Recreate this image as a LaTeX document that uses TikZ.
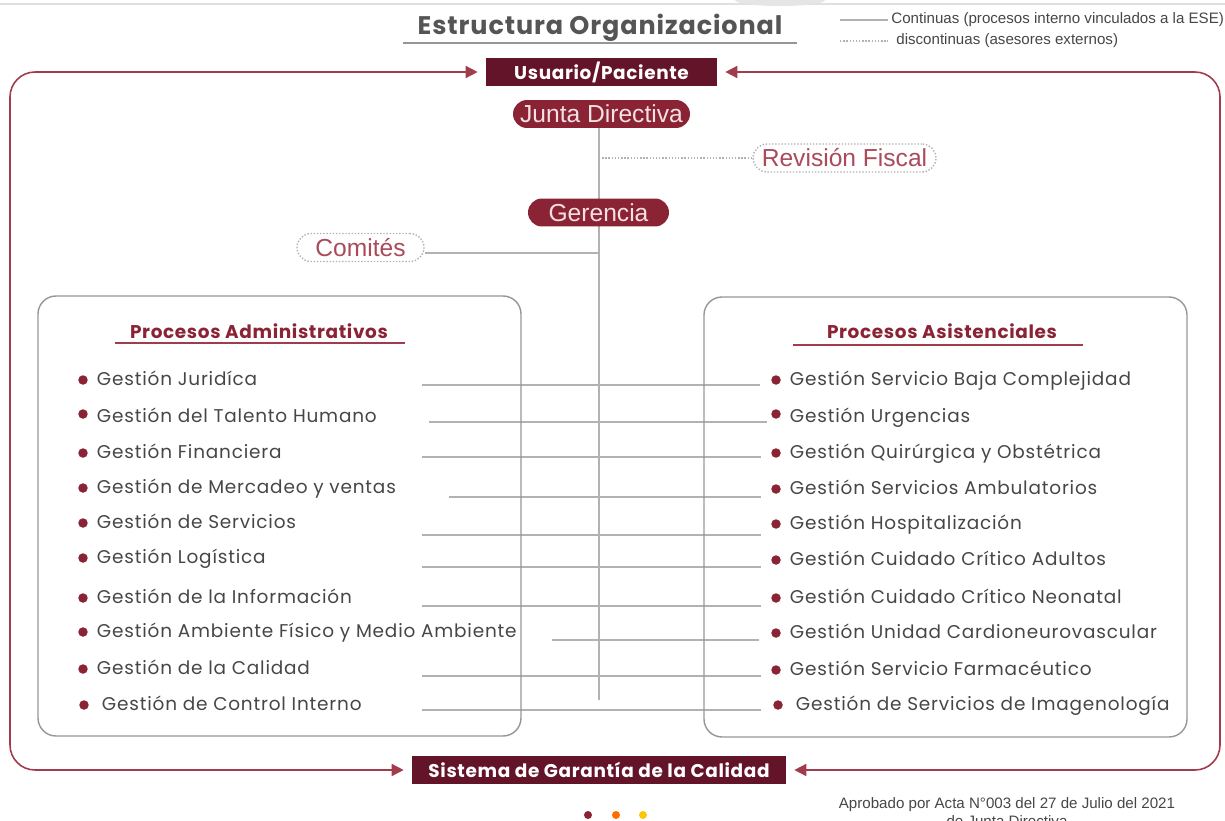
\documentclass[tikz,border=0pt]{standalone}
\usepackage{fontspec}
\setmainfont{Poppins}
\newfontfamily\pillfont{Liberation Sans}
\newfontfamily\wideface[LetterSpace=4.4]{Poppins}
\newfontfamily\boldwide[LetterSpace=3.5]{Poppins}
\usetikzlibrary{arrows.meta, positioning, backgrounds}

\definecolor{vino}{RGB}{100,20,40}
\definecolor{pillred}{RGB}{138,35,52}
\definecolor{flowred}{RGB}{160,60,75}
\definecolor{softred}{RGB}{170,75,90}
\definecolor{pilltext}{RGB}{245,225,228}
\definecolor{linegray}{RGB}{178,178,178}
\definecolor{panelgray}{RGB}{150,150,150}
\definecolor{itemgray}{RGB}{70,70,70}
\definecolor{titlegray}{RGB}{85,85,85}

\begin{document}
\begin{tikzpicture}[
    x=0.02cm, y=-0.02cm,
    banner/.style={rectangle, fill=vino, text=white, font=\boldwide\bfseries\fontsize{10.5}{12}\selectfont, minimum height=0.56cm, inner sep=0pt},
    pill/.style={rectangle, rounded corners=0.28cm, fill=pillred, text=pilltext, font=\pillfont\fontsize{14}{16}\selectfont, minimum height=0.56cm, inner sep=0pt},
    advisor/.style={pill, fill=white, draw=linegray, densely dotted, line width=0.8pt, text=softred},
    bullet/.style={circle, fill=pillred, minimum size=0.19cm, inner sep=0pt},
    item/.style={right=0.17cm of #1, text=itemgray, font=\wideface\fontsize{10.5}{12}\selectfont, inner sep=0pt, text height=1.6ex, text depth=0.4ex},
    heading/.style={text=pillred, font=\boldwide\bfseries\fontsize{10.5}{12}\selectfont},
    note/.style={text=itemgray, font=\pillfont\fontsize{8.6}{10}\selectfont, inner sep=0pt},
    link/.style={draw=linegray, line width=0.8pt},
    panel/.style={draw=panelgray, line width=0.8pt, rounded corners=0.36cm},
    feed/.style={draw=flowred, line width=0.9pt, rounded corners=0.5cm, >={Triangle[length=0.24cm,width=0.24cm]}, <->, shorten <=0.16cm, shorten >=0.16cm},
]
    \clip (0,0) rectangle (1225,821);
    \draw[black!12, line width=0.6pt] (0,4) -- (1225,4);
    \fill[black!10] (780,0) ellipse (45 and 6);

    % Title and legend
    \node (title) [text=titlegray, font=\boldwide\bfseries\fontsize{14.5}{17}\selectfont] at (600,28) {Estructura Organizacional};
    \draw[panelgray, line width=0.8pt] (403,43) -- (797,43);
    \node (lgsolid) [note, anchor=west] at (891,20) {Continuas (procesos interno vinculados a la ESE)};
    \node (lgdots) [note, anchor=west] at (896,41) {discontinuas (asesores externos)};

    % Top of the structure
    \node (usuario) [banner, minimum width=4.62cm] at (601.5,72) {Usuario/Paciente};
    \node (junta) [pill, minimum width=3.54cm] at (601.5,114) {Junta Directiva};
    \node (revision) [advisor, minimum width=3.66cm] at (844.5,158) {Revisión Fiscal};
    \node (gerencia) [pill, minimum width=2.82cm] at (598.5,212.5) {Gerencia};
    \node (comites) [advisor, minimum width=2.54cm] at (360.5,247.5) {Comités};
    \node (sistema) [banner, minimum width=7.48cm] at (599,770) {Sistema de Garantía de la Calidad};

    \coordinate (trunkend) at (599,700);
    \coordinate (fiscaltap) at (599,158);
    \coordinate (comitestap) at (599,253);
    \coordinate (leftrail) at (10,420);
    \coordinate (rightrail) at (1220,420);

    % Process panels
    \draw[panel] (38,296) rectangle (521,736);
    \draw[panel] (704,297) rectangle (1187,737);
    \node (hadm) [heading] at (259,331) {Procesos Administrativos};
    \node (hasis) [heading] at (942,331) {Procesos Asistenciales};
    \draw[flowred, line width=0.8pt] (115,343) -- (405,343);
    \draw[flowred, line width=0.8pt] (793,345) -- (1083,345);

    % Administrative processes
    \node (ab1) [bullet] at (83,380) {};
    \node (a1) [item=ab1] {Gestión Juridíca};
    \node (ab2) [bullet] at (83,414) {};
    \node (a2) [item=ab2, yshift=-0.06cm] {Gestión del Talento Humano};
    \node (ab3) [bullet] at (83,453) {};
    \node (a3) [item=ab3] {Gestión Financiera};
    \node (ab4) [bullet] at (83,488) {};
    \node (a4) [item=ab4] {Gestión de Mercadeo y ventas};
    \node (ab5) [bullet] at (83,523) {};
    \node (a5) [item=ab5] {Gestión de Servicios};
    \node (ab6) [bullet] at (83,558) {};
    \node (a6) [item=ab6] {Gestión Logística};
    \node (ab7) [bullet] at (83,598) {};
    \node (a7) [item=ab7] {Gestión de la Información};
    \node (ab8) [bullet] at (83,632) {};
    \node (a8) [item=ab8] {Gestión Ambiente Físico y Medio Ambiente};
    \node (ab9) [bullet] at (83,669) {};
    \node (a9) [item=ab9] {Gestión de la Calidad};
    \node (ab10) [bullet] at (84,705) {};
    \node (a10) [item=ab10, xshift=0.08cm] {Gestión de Control Interno};

    % Care processes
    \node (rb1) [bullet] at (776,380) {};
    \node (r1) [item=rb1] {Gestión Servicio Baja Complejidad};
    \node (rb2) [bullet] at (776,414) {};
    \node (r2) [item=rb2, yshift=-0.06cm] {Gestión Urgencias};
    \node (rb3) [bullet] at (776,453) {};
    \node (r3) [item=rb3] {Gestión Quirúrgica y Obstétrica};
    \node (rb4) [bullet] at (776,489) {};
    \node (r4) [item=rb4] {Gestión Servicios Ambulatorios};
    \node (rb5) [bullet] at (776,524) {};
    \node (r5) [item=rb5] {Gestión Hospitalización};
    \node (rb6) [bullet] at (776,560) {};
    \node (r6) [item=rb6] {Gestión Cuidado Crítico Adultos};
    \node (rb7) [bullet] at (776,598) {};
    \node (r7) [item=rb7] {Gestión Cuidado Crítico Neonatal};
    \node (rb8) [bullet] at (776,633) {};
    \node (r8) [item=rb8] {Gestión Unidad Cardioneurovascular};
    \node (rb9) [bullet] at (776,670) {};
    \node (r9) [item=rb9] {Gestión Servicio Farmacéutico};
    \node (rb10) [bullet] at (778,705) {};
    \node (r10) [item=rb10, xshift=0.08cm] {Gestión de Servicios de Imagenología};

    % Row links start points
    \coordinate (h1) at (422,385);
    \coordinate (h2) at (429,422);
    \coordinate (h3) at (422,457);
    \coordinate (h4) at (449,497);
    \coordinate (h5) at (422,535);
    \coordinate (h6) at (422,567);
    \coordinate (h7) at (422,606);
    \coordinate (h8) at (552,640);
    \coordinate (h9) at (422,676);
    \coordinate (h10) at (422,710);

    \begin{scope}[on background layer]
        \draw[link] (trunkend |- junta.south) -- (trunkend);
        \draw[link, densely dotted] (fiscaltap) -- (revision.west);
        \draw[link] (comitestap -| comites.east) -- (comitestap);
        \draw[link, shorten >=0.22cm] (h1) -- (h1 -| rb1.west);
        \draw[link, shorten >=0.08cm] (h2) -- (h2 -| rb2.west);
        \draw[link, shorten >=0.2cm] (h3) -- (h3 -| rb3.west);
        \draw[link, shorten >=0.2cm] (h4) -- (h4 -| rb4.west);
        \draw[link, shorten >=0.2cm] (h5) -- (h5 -| rb5.west);
        \draw[link, shorten >=0.2cm] (h6) -- (h6 -| rb6.west);
        \draw[link, shorten >=0.2cm] (h7) -- (h7 -| rb7.west);
        \draw[link, shorten >=0.24cm] (h8) -- (h8 -| rb8.west);
        \draw[link, shorten >=0.2cm] (h9) -- (h9 -| rb9.west);
        \draw[link, shorten >=0.24cm] (h10) -- (h10 -| rb10.west);
    \end{scope}

    % Legend samples
    \draw[link] ([xshift=-1.02cm]lgsolid.west) -- ([xshift=-0.06cm]lgsolid.west);
    \draw[link, densely dotted] ([xshift=-1.12cm]lgdots.west) -- ([xshift=-0.16cm]lgdots.west);

    % Feedback loops
    \draw[feed] (usuario.west) -| (leftrail) |- (sistema.west);
    \draw[feed] (usuario.east) -| (rightrail) |- (sistema.east);

    % Footer
    \fill[pillred] (588,815) circle (4);
    \fill[orange!85!red] (616,815) circle (4);
    \fill[yellow!60!orange] (643,815) circle (4);
    \node (acta) [note, anchor=north, align=center, font=\pillfont\fontsize{8.6}{10.2}\selectfont] at (1007,797) {Aprobado por Acta N°003 del 27 de Julio del 2021\\de Junta Directiva};
\end{tikzpicture}
\end{document}
